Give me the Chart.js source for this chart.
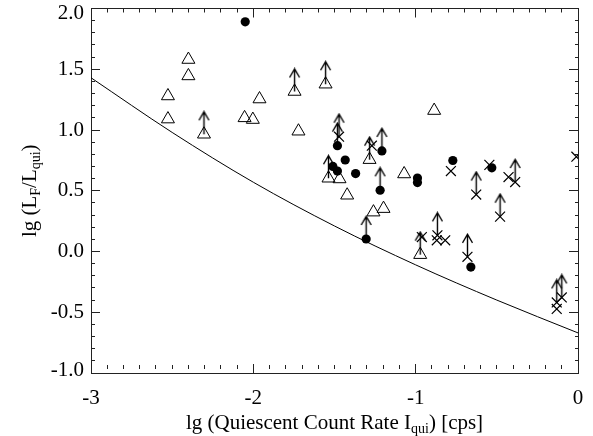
<!DOCTYPE html>
<html>
<head>
<meta charset="utf-8">
<script src="https://cdn.jsdelivr.net/npm/chart.js@4/dist/chart.umd.min.js"></script>
<style>
  html, body { margin: 0; padding: 0; background: #fff; }
  #wrap { width: 593px; height: 436px; }
</style>
</head>
<body>
<div id="wrap"><canvas id="fluxChart" width="593" height="436"></canvas></div>
<script>
// open triangles
const triX = [-2.40, -2.40, -2.526, -2.526, -2.304, -2.054, -2.003, -1.962, -1.746, -1.555, -1.722, -0.886, -1.537, -1.469, -1.422, -1.284, -1.260, -1.198, -1.071, -0.972];
const triY = [1.58, 1.445, 1.28, 1.09, 0.965, 1.10, 1.086, 1.255, 1.317, 1.377, 0.99, 1.16, 0.603, 0.597, 0.463, 0.756, 0.324, 0.353, 0.638, -0.026];

// filled circles
const dotX = [-2.05, -1.482, -1.510, -1.482, -1.434, -1.370, -1.208, -1.219, -1.305, -0.989, -0.989, -0.771, -0.531, -0.660];
const dotY = [1.89, 0.871, 0.700, 0.662, 0.753, 0.641, 0.828, 0.504, 0.103, 0.605, 0.567, 0.749, 0.689, -0.128];

// crosses
const crossX = [-1.472, -1.270, -0.783, -0.546, -0.627, -0.428, -0.387, -0.480, -0.962, -0.866, -0.870, -0.818, -0.681, -0.01, -0.100, -0.131, -0.131];
const crossY = [0.945, 0.871, 0.662, 0.713, 0.469, 0.613, 0.572, 0.287, 0.119, 0.133, 0.092, 0.092, -0.044, 0.78, -0.378, -0.419, -0.473];

// lower limits (arrow foot positions)
const arrowX = [-2.304, -1.746, -1.555, -1.537, -1.284, -0.972, -1.482, -1.208, -1.219, -1.305, -1.472, -0.627, -0.387, -0.480, -0.866, -0.681, -0.100, -0.131];
const arrowY = [0.965, 1.317, 1.377, 0.603, 0.756, -0.026, 0.871, 0.828, 0.504, 0.103, 0.945, 0.469, 0.572, 0.287, 0.133, -0.044, -0.378, -0.419];

// detection limit curve
const curveX = [-3, -2.5, -2, -1.5, -1, -0.5, 0];
const curveY = [1.43, 0.98, 0.57, 0.21, -0.11, -0.40, -0.67];

const xTicks = [-3, -2, -1, 0];
const yTicks = [-1.0, -0.5, 0.0, 0.5, 1.0, 1.5, 2.0];

const toPts = (xs, ys) => xs.map((x, i) => ({ x: x, y: ys[i] }));
const isIn = (list, v) => list.some(t => Math.abs(t - v) < 1e-6);

// arrow glyph: foot sits at the image centre, so it points up from the data point
function makeArrow() {
  const c = document.createElement('canvas');
  c.width = 13;
  c.height = 48;
  const g = c.getContext('2d');
  g.strokeStyle = '#000';
  g.lineWidth = 1.4;
  g.beginPath();
  g.moveTo(6.5, 24);
  g.lineTo(6.5, 1.5);
  g.moveTo(1.5, 10);
  g.lineTo(6.5, 1.5);
  g.lineTo(11.5, 10);
  g.stroke();
  return c;
}

const serif = '"Liberation Serif", "Times New Roman", serif';
const noPad = () => ({ left: 0, right: 0, top: 0, bottom: 0 });

// IDL-style box axis: inward ticks, minor every 0.1, long ones at the majors
function boxAxis(pos, min, max, majors, size, fromBorder, labels) {
  const horizontal = pos === 'top' || pos === 'bottom';
  return {
    type: 'linear',
    position: pos,
    min: min,
    max: max,
    afterBuildTicks: s => {
      const n = Math.round((max - min) * 10);
      const t = [];
      for (let i = 0; i <= n; i++) t.push({ value: Math.round((min + i * 0.1) * 10) / 10 });
      s.ticks = t;
    },
    afterFit: s => {
      if (horizontal) s.height = size; else s.width = size;
      s.paddingLeft = 0; s.paddingRight = 0; s.paddingTop = 0; s.paddingBottom = 0;
      s.getPadding = noPad;
    },
    border: { display: true, color: '#222', width: 1 },
    grid: {
      display: true,
      drawOnChartArea: false,
      drawTicks: true,
      tickLength: -9,
      tickWidth: 1,
      tickColor: '#222',
      tickBorderDash: c => {
        const v = c.tick ? c.tick.value : 0;
        if (isIn(majors, v)) return [];
        return fromBorder ? [4, 100] : [0, 5, 4, 100];
      }
    },
    ticks: labels ? Object.assign({ autoSkip: false, maxRotation: 0, color: '#000' }, labels)
                  : { display: false, autoSkip: false }
  };
}

const titlePlugin = {
  id: 'axisTitles',
  afterDraw(chart) {
    const ctx = chart.ctx;
    const a = chart.chartArea;
    const big = '21px ' + serif;
    const small = '14px ' + serif;
    const width = parts => parts.reduce((w, p) => {
      ctx.font = p[1] ? small : big;
      return w + ctx.measureText(p[0]).width;
    }, 0);
    const put = (parts, x, y) => {
      let cx = x;
      parts.forEach(p => {
        ctx.font = p[1] ? small : big;
        ctx.fillText(p[0], cx, p[1] ? y + 4 : y);
        cx += ctx.measureText(p[0]).width;
      });
    };
    ctx.save();
    ctx.fillStyle = '#000';
    ctx.textBaseline = 'alphabetic';
    ctx.textAlign = 'left';
    const xt = [['lg (Quiescent Count Rate I', 0], ['qui', 1], [') [cps]', 0]];
    put(xt, (a.left + a.right) / 2 - width(xt) / 2, 429);
    const yt = [['lg (L', 0], ['F', 1], ['/L', 0], ['qui', 1], [')', 0]];
    const yw = width(yt);
    ctx.translate(36, (a.top + a.bottom) / 2);
    ctx.rotate(-Math.PI / 2);
    put(yt, -yw / 2, 0);
    ctx.restore();
  }
};

const arrowImg = makeArrow();

new Chart(document.getElementById('fluxChart'), {
  type: 'scatter',
  data: {
    datasets: [
      { label: 'triangles', data: toPts(triX, triY), pointStyle: 'triangle', pointRadius: 7.5, borderColor: '#000', borderWidth: 1, backgroundColor: 'rgba(0,0,0,0)', order: 2 },
      { label: 'dots', data: toPts(dotX, dotY), pointStyle: 'circle', pointRadius: 4.6, borderColor: '#000', borderWidth: 0, backgroundColor: '#000', order: 1 },
      { label: 'crosses', data: toPts(crossX, crossY), pointStyle: 'crossRot', pointRadius: 7, borderColor: '#000', borderWidth: 1.2, order: 3 },
      { label: 'limits', data: toPts(arrowX, arrowY), pointStyle: arrowImg, order: 4 },
      { label: 'curve', data: toPts(curveX, curveY), showLine: true, borderColor: '#000', borderWidth: 1, pointRadius: 0, cubicInterpolationMode: 'monotone', order: 5 }
    ]
  },
  options: {
    responsive: false,
    animation: false,
    devicePixelRatio: 1,
    events: [],
    layout: { padding: { left: 0, right: 15, top: 5, bottom: 0 } },
    plugins: { legend: { display: false }, tooltip: { enabled: false } },
    scales: {
      x: boxAxis('bottom', -3, 0, xTicks, 63, false, {
        padding: 22,
        font: { family: serif, size: 21 },
        callback: v => isIn(xTicks, v) ? String(Math.round(v)) : ''
      }),
      x2: boxAxis('top', -3, 0, xTicks, 0, false, null),
      y: boxAxis('left', -1, 2, yTicks, 91, false, {
        padding: 16,
        font: c => {
          const v = c.tick ? c.tick.value : 0;
          if (v === 2) return { family: serif, size: 21, lineHeight: '10px' };
          if (v === -1) return { family: serif, size: 21, lineHeight: '6px' };
          return { family: serif, size: 21 };
        },
        callback: v => {
          if (!isIn(yTicks, v)) return '';
          const s = Number(v).toFixed(1);
          if (v === 2) return ['', s];
          if (v === -1) return [s, ''];
          return s;
        }
      }),
      y2: boxAxis('right', -1, 2, yTicks, 0, true, null)
    }
  },
  plugins: [titlePlugin]
});
</script>
</body>
</html>
